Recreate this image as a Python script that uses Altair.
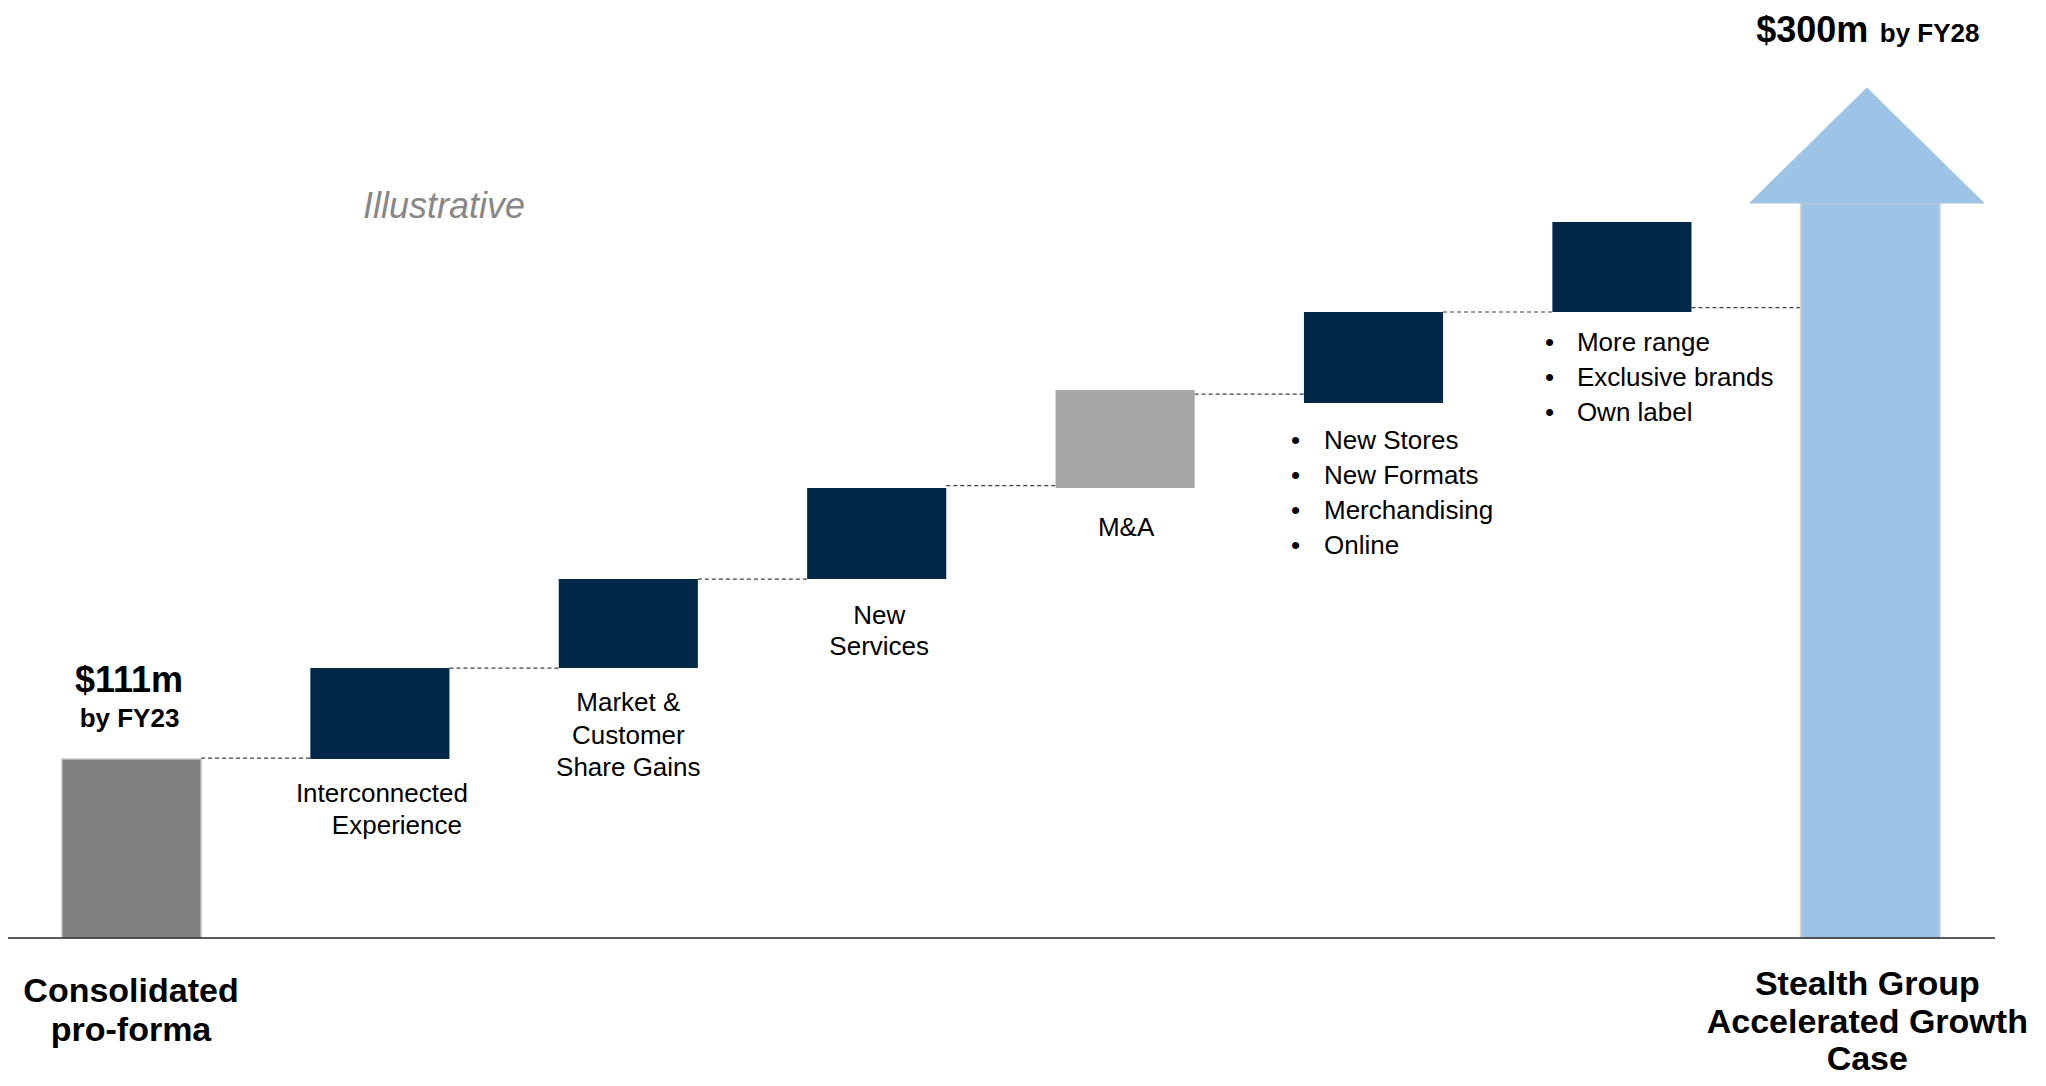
import altair as alt
import pandas as pd

# ---------------- data (illustrative units) ----------------
categories = ["Consolidated pro-forma", "Interconnected Experience", "Market & Customer Share Gains",
              "New Services", "M&A", "Store Network", "Range",
              "Stealth Group Accelerated Growth Case"]
bar_start = [0.0, 111.0, 167.4, 222.6, 279.0, 331.7, 388.2]
bar_end = [111.0, 167.4, 222.6, 279.0, 339.8, 388.2, 444.0]
bar_kind = ["Base", "Organic", "Organic", "Organic", "M&A", "Organic", "Organic"]
connector_level = [111.5, 167.4, 222.6, 280.5, 337.3, 388.2, 390.9]
target_body_top = 455.8
target_tip = 527.1

step_labels = ["Interconnected", "Experience"]
market_label = "Market &\nCustomer\nShare Gains"
services_label = "New\nServices"
ma_label = "M&A"
stores_bullets = ["New Stores", "New Formats", "Merchandising", "Online"]
range_bullets = ["More range", "Exclusive brands", "Own label"]
start_label = "Consolidated\npro-forma"
end_label = "Stealth Group\nAccelerated Growth\nCase"
start_value = ("$111m", "by FY23")
end_value = ("$300m", "by FY28")
note = "Illustrative"

# ---------------- layout / style ----------------
W, H = 2030, 1070
STEP = 248.4          # px between category centres
X0_PX = 123.5         # plot x of first category centre
Y0_PX = 930           # plot y of the zero line
PXU = 1.6126          # px per value unit
HALF = 0.28           # half bar width (category units)
HEAD = 0.471          # half arrow-head width
HEAD_SHIFT = -0.014   # arrow head sits slightly left of the body centre
FONT = "Liberation Sans"

NAVY = "#022849"
GREY = "#808080"
LIGHT_GREY = "#A6A6A6"
ARROW = "#9DC3E6"

xs = alt.Scale(domain=[-X0_PX / STEP, (W - X0_PX) / STEP], nice=False, zero=False)
ys = alt.Scale(domain=[-(H - Y0_PX) / PXU, Y0_PX / PXU], nice=False, zero=False)


def X(f):
    return alt.X(f, type="quantitative", scale=xs, axis=None)


def Y(f):
    return alt.Y(f, type="quantitative", scale=ys, axis=None)


n = len(bar_start)
bars = pd.DataFrame({
    "cat": categories[:n],
    "x0": [i - HALF for i in range(n)],
    "x1": [i + HALF for i in range(n)],
    "y0": bar_start,
    "y1": bar_end,
    "kind": bar_kind,
})

colour = alt.Color("kind:N", scale=alt.Scale(domain=["Base", "Organic", "M&A"],
                                            range=[GREY, NAVY, LIGHT_GREY]), legend=None)

base_layer = alt.Chart(bars[bars.kind == "Base"]).mark_rect(stroke="#C4C4C4", strokeWidth=1.5).encode(
    x=X("x0"), x2="x1", y=Y("y0"), y2="y1", color=colour)
step_layer = alt.Chart(bars[bars.kind != "Base"]).mark_rect().encode(
    x=X("x0"), x2="x1", y=Y("y0"), y2="y1", color=colour)

conn = pd.DataFrame({
    "x0": [i + HALF for i in range(n)],
    "x1": [i + 1 - HALF for i in range(n)],
    "y": connector_level,
})
conn_layer = alt.Chart(conn).mark_rule(color="#404040", strokeWidth=1.2, strokeDash=[4, 3]).encode(
    x=X("x0"), x2="x1", y=Y("y"))

ti = n  # index of the target arrow
body = pd.DataFrame({"x0": [ti - HALF], "x1": [ti + HALF], "y0": [0.0], "y1": [target_body_top]})
body_layer = alt.Chart(body).mark_rect(color=ARROW, stroke="#D2D2D2", strokeWidth=2).encode(
    x=X("x0"), x2="x1", y=Y("y0"), y2="y1")

hc = ti + HEAD_SHIFT
head = pd.DataFrame({"x": [hc - HEAD, hc, hc + HEAD],
                     "y": [target_body_top, target_tip, target_body_top],
                     "y2": [target_body_top] * 3})
head_layer = alt.Chart(head).mark_area(color=ARROW, stroke=ARROW, strokeWidth=1).encode(
    x=X("x"), y=Y("y"), y2="y2")

axis_df = pd.DataFrame({"x0": [-0.501], "x1": [ti + 0.502], "y": [0.0]})
axis_layer = alt.Chart(axis_df).mark_rule(color="#262626", strokeWidth=1.6).encode(
    x=X("x0"), x2="x1", y=Y("y"))


def text_layer(xv, yv, txt, size, weight="normal", align="center", dx=0, dy=0, lh=None,
               color="#000000", style="normal"):
    df = pd.DataFrame({"x": [xv], "y": [yv], "t": [txt]})
    kw = dict(align=align, baseline="alphabetic", dx=dx, dy=dy, fontSize=size,
              fontWeight=weight, font=FONT, color=color, fontStyle=style, lineBreak="\n")
    if lh:
        kw["lineHeight"] = lh
    return alt.Chart(df).mark_text(**kw).encode(x=X("x"), y=Y("y"), text="t:N")


texts = [
    text_layer(1, bar_start[1], step_labels[0], 26, dx=2, dy=43),
    text_layer(1, bar_start[1], step_labels[1], 26, dx=17, dy=75),
    text_layer(2, bar_start[2], market_label, 26, dx=0, dy=43, lh=32.5),
    text_layer(3, bar_start[3], services_label, 26, dx=2.5, dy=45, lh=30.5),
    text_layer(4, bar_start[4], ma_label, 26, dx=1, dy=48),
    text_layer(5, bar_start[5], "\n".join(["•"] * len(stores_bullets)), 26, align="left",
               dx=-82.5, dy=46, lh=35),
    text_layer(5, bar_start[5], "\n".join(stores_bullets), 26, align="left", dx=-49.5, dy=46, lh=35),
    text_layer(6, bar_start[6], "\n".join(["•"] * len(range_bullets)), 26, align="left",
               dx=-77, dy=39, lh=35),
    text_layer(6, bar_start[6], "\n".join(range_bullets), 26, align="left", dx=-45, dy=39, lh=35),
    text_layer(0, 0, start_label, 34, weight="bold", dx=-0.5, dy=64, lh=39),
    text_layer(ti, 0, end_label, 34, weight="bold", dx=-3, dy=57, lh=37.5),
    text_layer(0, bar_end[0], start_value[0], 36, weight="bold", dx=-2.5, dy=-67),
    text_layer(0, bar_end[0], start_value[1], 26, weight="bold", dx=-2, dy=-32),
    text_layer(ti, target_tip, end_value[0], 36, weight="bold", align="right", dx=-2, dy=-46),
    text_layer(ti, target_tip, end_value[1], 26, weight="bold", align="left", dx=9.5, dy=-46),
]

note_layer = alt.Chart(pd.DataFrame({"t": [note]})).mark_text(
    align="left", baseline="alphabetic", fontSize=36, fontStyle="italic", font=FONT,
    color="#878787").encode(x=alt.value(355), y=alt.value(210), text="t:N")

chart = alt.layer(
    conn_layer, base_layer, step_layer, body_layer, head_layer, axis_layer, note_layer, *texts
).properties(
    width=W, height=H, padding=0, background="white",
    autosize=alt.AutoSizeParams(type="none"),
).configure_view(strokeWidth=0)

chart.save("out.html", embed_options={"renderer": "svg", "actions": False})
